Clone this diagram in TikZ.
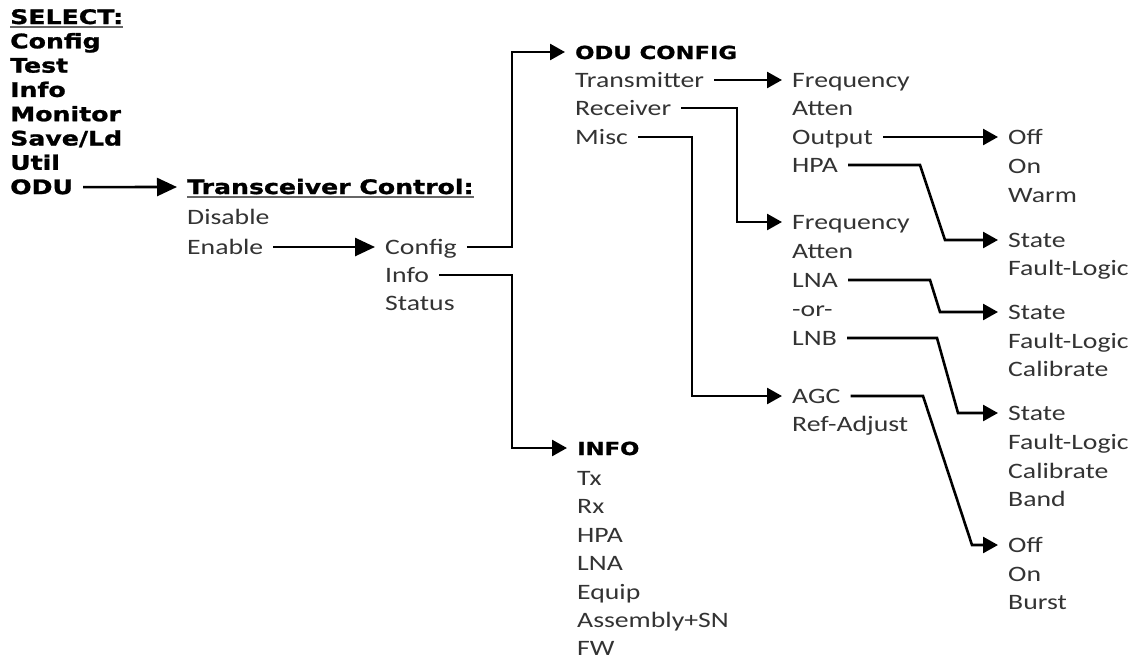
\documentclass[tikz,border=0pt]{standalone}
\usepackage{fontspec}
\setmainfont{Carlito}[FakeStretch=1.26]
\newfontfamily\headfont{DejaVu Sans}[FakeStretch=1.26, FakeBold=1.2]
\usetikzlibrary{arrows.meta}
\tikzset{
  every picture/.style={line join=miter},
  item/.style={anchor=west, inner xsep=10pt, inner ysep=0pt, text height=14pt, text depth=0pt,
    text=black!80, font=\fontsize{22}{22}\selectfont},
  menu/.style={item, text=black, font=\headfont\bfseries\fontsize{20}{20}\selectfont},
  title/.style={item, text=black, font=\headfont\bfseries\fontsize{18}{18}\selectfont},
  link/.style={line width=2.6pt, -{Triangle[length=15pt,width=16pt]}},
  biglink/.style={link, -{Triangle[length=20pt,width=18pt]}},
  uline/.style={line width=2pt, black!60},
}

\begin{document}
\begin{tikzpicture}[x=1pt, y=-1pt]
\useasboundingbox (0,0) rectangle (1139,659);
% Select menu
\node[menu] (sel) at (0,17) {SELECT:};
\node[menu] (mcfg) at (0,41.3) {Config};
\node[menu] (mtest) at (0,65.6) {Test};
\node[menu] (minfo) at (0,89.9) {Info};
\node[menu] (mmon) at (0,114.2) {Monitor};
\node[menu] (msave) at (0,138.5) {Save/Ld};
\node[menu] (mutil) at (0,162.8) {Util};
\node[menu] (odu) at (0,187.1) {ODU};
\draw[uline] ([shift={(10pt,-2.5pt)}]sel.base west) -- ([shift={(-10pt,-2.5pt)}]sel.base east);

% Transceiver control
\node[menu] (trc) at (177,187) {Transceiver Control:};
\draw[uline] ([shift={(10pt,-2.5pt)}]trc.base west) -- ([shift={(-10pt,-2.5pt)}]trc.base east);
\node[item] (disable) at (177,217) {Disable};
\node[item] (enable) at (177,247) {Enable};

% Enable submenu
\node[item] (config) at (375,247) {Config};
\node[item] (info) at (375,275) {Info};
\node[item] (status) at (375,303) {Status};

% ODU config
\node[title] (oducfg) at (565,52) {ODU CONFIG};
\node[item] (tx) at (565,80) {Transmitter};
\node[item] (rx) at (565,108) {Receiver};
\node[item] (misc) at (565,137) {Misc};

% Info list
\node[title] (infohd) at (567,448) {INFO};
\node[item] (itx) at (567,478) {Tx};
\node[item] (irx) at (567,506) {Rx};
\node[item] (ihpa) at (567,535) {HPA};
\node[item] (ilna) at (567,563) {LNA};
\node[item] (iequip) at (567,592) {Equip};
\node[item] (iasm) at (567,620) {Assembly+SN};
\node[item] (ifw) at (567,648) {FW};

% Transmitter / Receiver / Misc items
\node[item] (tfreq) at (782,80) {Frequency};
\node[item] (tatt) at (782,108) {Atten};
\node[item] (tout) at (782,137) {Output};
\node[item] (thpa) at (782,165) {HPA};
\node[item] (rfreq) at (782,222) {Frequency};
\node[item] (ratt) at (782,251) {Atten};
\node[item] (rlna) at (782,280) {LNA};
\node[item] (ror) at (782,309) {-or-};
\node[item] (rlnb) at (782,338) {LNB};
\node[item] (agc) at (782,396) {AGC};
\node[item] (refadj) at (782,424) {Ref-Adjust};

% Last level
\node[item] (ooff) at (998,137) {Off};
\node[item] (oon) at (998,166) {On};
\node[item] (owarm) at (998,195) {Warm};
\node[item] (hstate) at (998,240) {State};
\node[item] (hfault) at (998,268) {Fault-Logic};
\node[item] (astate) at (998,312) {State};
\node[item] (afault) at (998,341) {Fault-Logic};
\node[item] (acal) at (998,369) {Calibrate};
\node[item] (bstate) at (998,413) {State};
\node[item] (bfault) at (998,442) {Fault-Logic};
\node[item] (bcal) at (998,471) {Calibrate};
\node[item] (bband) at (998,499) {Band};
\node[item] (goff) at (998,545) {Off};
\node[item] (gon) at (998,574) {On};
\node[item] (gburst) at (998,602) {Burst};

% Bend points
\coordinate (b1) at (512,0);
\coordinate (b2) at (737,0);
\coordinate (b3) at (692,0);
\coordinate (h1) at (920,0);
\coordinate (h2) at (945,0);
\coordinate (n1) at (930,0);
\coordinate (n2) at (940,0);
\coordinate (l1) at (937,0);
\coordinate (l2) at (958,0);
\coordinate (g1) at (923,0);
\coordinate (g2) at (972,0);

% Connectors
\draw[biglink] (odu.east) -- (trc.west);
\draw[biglink] (enable.east) -- (config.west);
\draw[link] (config.east) -- (config.east -| b1) |- (oducfg.west);
\draw[link] (info.east) -- (info.east -| b1) |- (infohd.west);
\draw[link] (tx.east) -- (tfreq.west);
\draw[link] (rx.east) -- (rx.east -| b2) |- (rfreq.west);
\draw[link] (misc.east) -- (misc.east -| b3) |- (agc.west);
\draw[link] (tout.east) -- (ooff.west);
\draw[link] (thpa.east) -- (thpa.east -| h1) -- (hstate.west -| h2) -- (hstate.west);
\draw[link] (rlna.east) -- (rlna.east -| n1) -- (astate.west -| n2) -- (astate.west);
\draw[link] (rlnb.east) -- (rlnb.east -| l1) -- (bstate.west -| l2) -- (bstate.west);
\draw[link] (agc.east) -- (agc.east -| g1) -- (goff.west -| g2) -- (goff.west);
\end{tikzpicture}
\end{document}
